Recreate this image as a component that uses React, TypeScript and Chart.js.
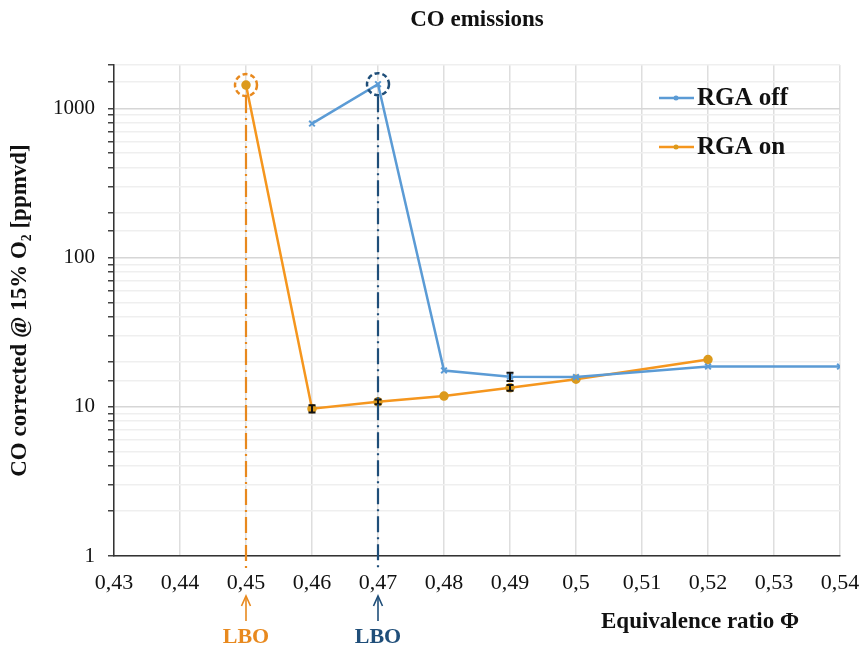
import React, { useEffect, useRef } from "react";
import { Chart, registerables } from "chart.js";

Chart.register(...registerables);

const phiOff = [0.46, 0.47, 0.48, 0.49, 0.5, 0.52, 0.54];
const coOff = [790, 1450, 17.5, 15.9, 15.8, 18.6, 18.6];
const errOff = [0, 0, 0, 1.0, 0, 0, 0];

const phiOn = [0.45, 0.46, 0.47, 0.48, 0.49, 0.5, 0.52];
const coOn = [1430, 9.7, 10.8, 11.8, 13.4, 15.3, 20.7];
const errOn = [0, 0.55, 0.4, 0, 0.6, 0, 0];

const lboOn = { phi: 0.45, co: 1430 };
const lboOff = { phi: 0.47, co: 1450 };

const BLUE = "#5b9bd5";
const ORANGE = "#f5961e";
const ORANGE_PT = "#dc9a1c";
const DARK_BLUE = "#1f4e79";
const LBO_ORANGE = "#e8891e";
const SERIF = "'Liberation Serif', 'Times New Roman', serif";

const overlay = {
  id: "overlay",
  afterDatasetsDraw(chart: any) {
    const { ctx, scales, chartArea } = chart;
    const xs = scales.x;
    const ys = scales.y;
    ctx.save();
    const drawErr = (phis: number[], vals: number[], errs: number[]) => {
      ctx.strokeStyle = "#111";
      ctx.lineWidth = 2;
      phis.forEach((p, i) => {
        if (!errs[i]) return;
        const x = xs.getPixelForValue(p);
        const y1 = ys.getPixelForValue(vals[i] - errs[i]);
        const y2 = ys.getPixelForValue(vals[i] + errs[i]);
        ctx.beginPath();
        ctx.moveTo(x, y1);
        ctx.lineTo(x, y2);
        ctx.moveTo(x - 3.5, y1);
        ctx.lineTo(x + 3.5, y1);
        ctx.moveTo(x - 3.5, y2);
        ctx.lineTo(x + 3.5, y2);
        ctx.stroke();
      });
    };
    drawErr(phiOff, coOff, errOff);
    drawErr(phiOn, coOn, errOn);

    const lbo = (pt: { phi: number; co: number }, color: string) => {
      const x = xs.getPixelForValue(pt.phi);
      const y = ys.getPixelForValue(pt.co);
      ctx.strokeStyle = color;
      ctx.lineWidth = 2.5;
      ctx.setLineDash([5, 3]);
      ctx.beginPath();
      ctx.arc(x, y, 11, 0, Math.PI * 2);
      ctx.stroke();
      ctx.lineWidth = 2.2;
      ctx.setLineDash([16, 5, 2, 5]);
      ctx.beginPath();
      ctx.moveTo(x, y + 12);
      ctx.lineTo(x, chartArea.bottom + 14);
      ctx.stroke();
      ctx.setLineDash([]);
      ctx.lineWidth = 1.6;
      ctx.beginPath();
      ctx.moveTo(x, chartArea.bottom + 65);
      ctx.lineTo(x, chartArea.bottom + 41);
      ctx.stroke();
      ctx.beginPath();
      ctx.moveTo(x - 4.5, chartArea.bottom + 50);
      ctx.lineTo(x, chartArea.bottom + 40);
      ctx.lineTo(x + 4.5, chartArea.bottom + 50);
      ctx.stroke();
      ctx.fillStyle = color;
      ctx.font = `bold 22px ${SERIF}`;
      ctx.textAlign = "center";
      ctx.textBaseline = "middle";
      ctx.fillText("LBO", x, chartArea.bottom + 81);
    };
    lbo(lboOn, LBO_ORANGE);
    lbo(lboOff, DARK_BLUE);
    ctx.restore();
  },
  afterDraw(chart: any) {
    const { ctx, chartArea } = chart;
    ctx.save();
    ctx.fillStyle = "#111";
    ctx.textBaseline = "middle";
    ctx.textAlign = "center";
    ctx.font = `bold 23px ${SERIF}`;
    ctx.fillText("CO emissions", (chartArea.left + chartArea.right) / 2, 20);
    ctx.font = `bold 23px ${SERIF}`;
    ctx.fillText("Equivalence ratio Φ", 700, chartArea.bottom + 66);

    const items = [
      { label: "RGA off", color: BLUE, pt: BLUE, y: 98 },
      { label: "RGA on", color: ORANGE, pt: ORANGE_PT, y: 147 },
    ];
    items.forEach((it) => {
      ctx.strokeStyle = it.color;
      ctx.lineWidth = 2.5;
      ctx.beginPath();
      ctx.moveTo(659, it.y);
      ctx.lineTo(694, it.y);
      ctx.stroke();
      ctx.fillStyle = it.pt;
      ctx.beginPath();
      ctx.arc(676, it.y, 2.5, 0, Math.PI * 2);
      ctx.fill();
      ctx.fillStyle = "#111";
      ctx.textAlign = "left";
      ctx.font = `bold 25px ${SERIF}`;
      ctx.fillText(it.label, 697, it.y + 1);
    });
    ctx.restore();
  },
};

export default function App() {
  const ref = useRef<HTMLCanvasElement>(null);
  useEffect(() => {
    if (!ref.current) return;
    const chart = new Chart(ref.current, {
      type: "line",
      data: {
        datasets: [
          {
            label: "RGA off",
            data: phiOff.map((p, i) => ({ x: p, y: coOff[i] })),
            borderColor: BLUE,
            backgroundColor: BLUE,
            borderWidth: 2.5,
            pointStyle: "crossRot",
            pointRadius: 4,
            pointBorderWidth: 2,
            tension: 0,
          },
          {
            label: "RGA on",
            data: phiOn.map((p, i) => ({ x: p, y: coOn[i] })),
            borderColor: ORANGE,
            backgroundColor: ORANGE_PT,
            pointBorderColor: ORANGE_PT,
            borderWidth: 2.5,
            pointStyle: "circle",
            pointRadius: 3.5,
            tension: 0,
          },
        ],
      },
      options: {
        animation: false,
        responsive: false,
        maintainAspectRatio: false,
        layout: { padding: { top: 65, right: 0, left: 0, bottom: 0 } },
        plugins: {
          legend: { display: false },
          title: { display: false },
          tooltip: { enabled: false },
        },
        scales: {
          x: {
            type: "linear",
            min: 0.43,
            max: 0.54,
            afterFit: (s: any) => {
              s.height = 94;
              s.paddingRight = 20;
              s.paddingLeft = 0;
            },
            ticks: {
              stepSize: 0.01,
              padding: 14,
              color: "#111",
              font: { family: SERIF, size: 22 },
              callback: (v: any) => String(Number(Number(v).toFixed(2))).replace(".", ","),
            },
            grid: { color: "#dedede", lineWidth: 1.5, drawTicks: false },
            border: { color: "#333", width: 1.5 },
          },
          y: {
            type: "logarithmic",
            min: 1,
            max: 1950,
            afterFit: (s: any) => {
              s.width = 114;
              s.paddingTop = 0;
              s.paddingBottom = 0;
            },
            title: {
              display: true,
              text: "CO corrected @ 15% O₂ [ppmvd]",
              color: "#111",
              font: { family: SERIF, size: 23, weight: "bold" },
              padding: { top: 6, bottom: 0 },
            },
            ticks: {
              autoSkip: false,
              padding: 13,
              color: "#111",
              font: { family: SERIF, size: 21 },
              callback: (v: any) => {
                const l = Math.log10(Number(v));
                return Math.abs(l - Math.round(l)) < 1e-9 ? String(Math.round(Number(v))) : "";
              },
            },
            grid: {
              color: (c: any) => {
                const v = c.tick ? c.tick.value : 0;
                const l = Math.log10(v);
                return Math.abs(l - Math.round(l)) < 1e-9 ? "#d6d6d6" : "#efefef";
              },
              lineWidth: 1.5,
              tickLength: 6,
              tickColor: "#444",
            },
            border: { color: "#333", width: 1.5 },
          },
        },
      },
      plugins: [overlay],
    });
    return () => chart.destroy();
  }, []);
  return (
    <div style={{ position: "absolute", left: 0, top: 0, width: 860, height: 650, background: "#fff" }}>
      <canvas ref={ref} width={860} height={650} style={{ width: 860, height: 650 }} />
    </div>
  );
}
